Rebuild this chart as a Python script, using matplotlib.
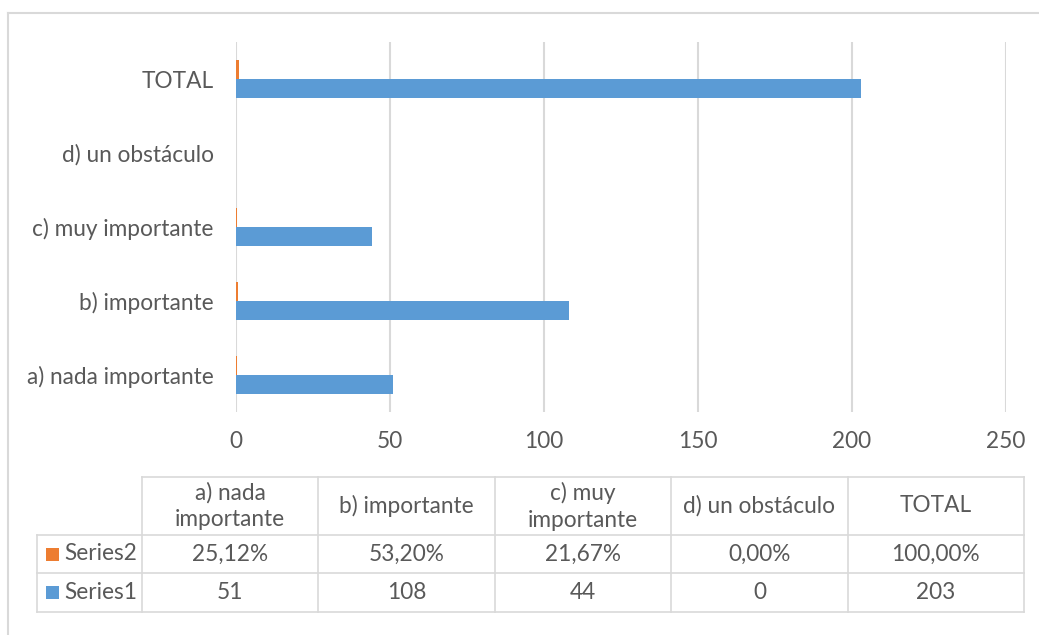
import matplotlib
matplotlib.use("Agg")
import matplotlib.pyplot as plt
from matplotlib.patches import Rectangle

categories = ["a) nada importante", "b) importante", "c) muy importante", "d) un obstáculo", "TOTAL"]
table_headers = ["a) nada\nimportante", "b) importante", "c) muy\nimportante", "d) un obstáculo", "TOTAL"]
series1 = [51, 108, 44, 0, 203]
series2 = [0.2512, 0.5320, 0.2167, 0.0, 1.0]
series_names = ["Series1", "Series2"]
x_ticks = [0, 50, 100, 150, 200, 250]

BLUE = "#5B9BD5"
ORANGE = "#ED7D31"
GRID = "#D9D9D9"
TEXT = "#595959"
FONT = "Lato"
FS = 16.3

W, H = 1039, 635
fig = plt.figure(figsize=(W / 100, H / 100), dpi=100)
plt.rcParams['font.family'] = [FONT, 'DejaVu Sans']

# plot area in pixels
L, R, T, B = 236, 1006, 42, 412
ax = fig.add_axes([L / W, 1 - B / H, (R - L) / W, (B - T) / H])
ys = list(range(len(categories)))
bh = 0.257
ax.barh([y - bh / 2 for y in ys], series1, height=bh, color=BLUE, zorder=3)
ax.barh([y + bh / 2 for y in ys], series2, height=bh, color=ORANGE, zorder=3)
ax.set_xlim(0, 250)
ax.set_ylim(-0.5, len(categories) - 0.5)
ax.set_xticks(x_ticks)
ax.set_xticklabels([str(t) for t in x_ticks])
ax.set_yticks(ys)
ax.set_yticklabels(categories)
ax.xaxis.grid(True, color=GRID, linewidth=1.5, zorder=0)
ax.tick_params(axis="both", length=0, labelsize=FS, labelcolor=TEXT)
ax.tick_params(axis="y", pad=16)
ax.tick_params(axis="x", pad=14)
for s in ax.spines.values():
    s.set_visible(False)
ax.set_facecolor("none")

# overlay in pixel coordinates for frame and data table
ov = fig.add_axes([0, 0, 1, 1])
ov.set_xlim(0, W)
ov.set_ylim(H, 0)
ov.axis("off")
ov.set_zorder(-1)
ov.plot([8, 8], [13, H], color=GRID, lw=1.5)
ov.plot([8, W], [13, 13], color=GRID, lw=1.5)

lw = 1.2
tl, tc0, tr = 37, 142, 1024
rows_y = [477, 535, 573, 612]
ncol = len(table_headers)
cw = (tr - tc0) / ncol
col_x = [tc0 + i * cw for i in range(ncol + 1)]
# horizontal lines
ov.plot([tc0, tr], [rows_y[0]] * 2, color=GRID, lw=lw)
for yy in rows_y[1:]:
    ov.plot([tl, tr], [yy] * 2, color=GRID, lw=lw)
# vertical lines
ov.plot([tl, tl], [rows_y[1], rows_y[3]], color=GRID, lw=lw)
for xx in col_x:
    ov.plot([xx, xx], [rows_y[0], rows_y[3]], color=GRID, lw=lw)

for i, h in enumerate(table_headers):
    ov.text((col_x[i] + col_x[i + 1]) / 2, (rows_y[0] + rows_y[1]) / 2, h,
            ha="center", va="center", fontsize=FS, color=TEXT, linespacing=1.35)

row_data = [
    (series_names[1], ORANGE, [f"{v * 100:.2f}%".replace(".", ",") for v in series2]),
    (series_names[0], BLUE, [str(v) for v in series1]),
]
for r, (name, col, vals) in enumerate(row_data):
    yc = (rows_y[r + 1] + rows_y[r + 2]) / 2
    ov.add_patch(Rectangle((46, yc - 6.5), 13, 13, color=col, lw=0))
    ov.text(64, yc, name, ha="left", va="center", fontsize=FS, color=TEXT)
    for i, v in enumerate(vals):
        ov.text((col_x[i] + col_x[i + 1]) / 2, yc, v, ha="center", va="center",
                fontsize=FS, color=TEXT)

fig.savefig("out.png", dpi=100, facecolor="white")
